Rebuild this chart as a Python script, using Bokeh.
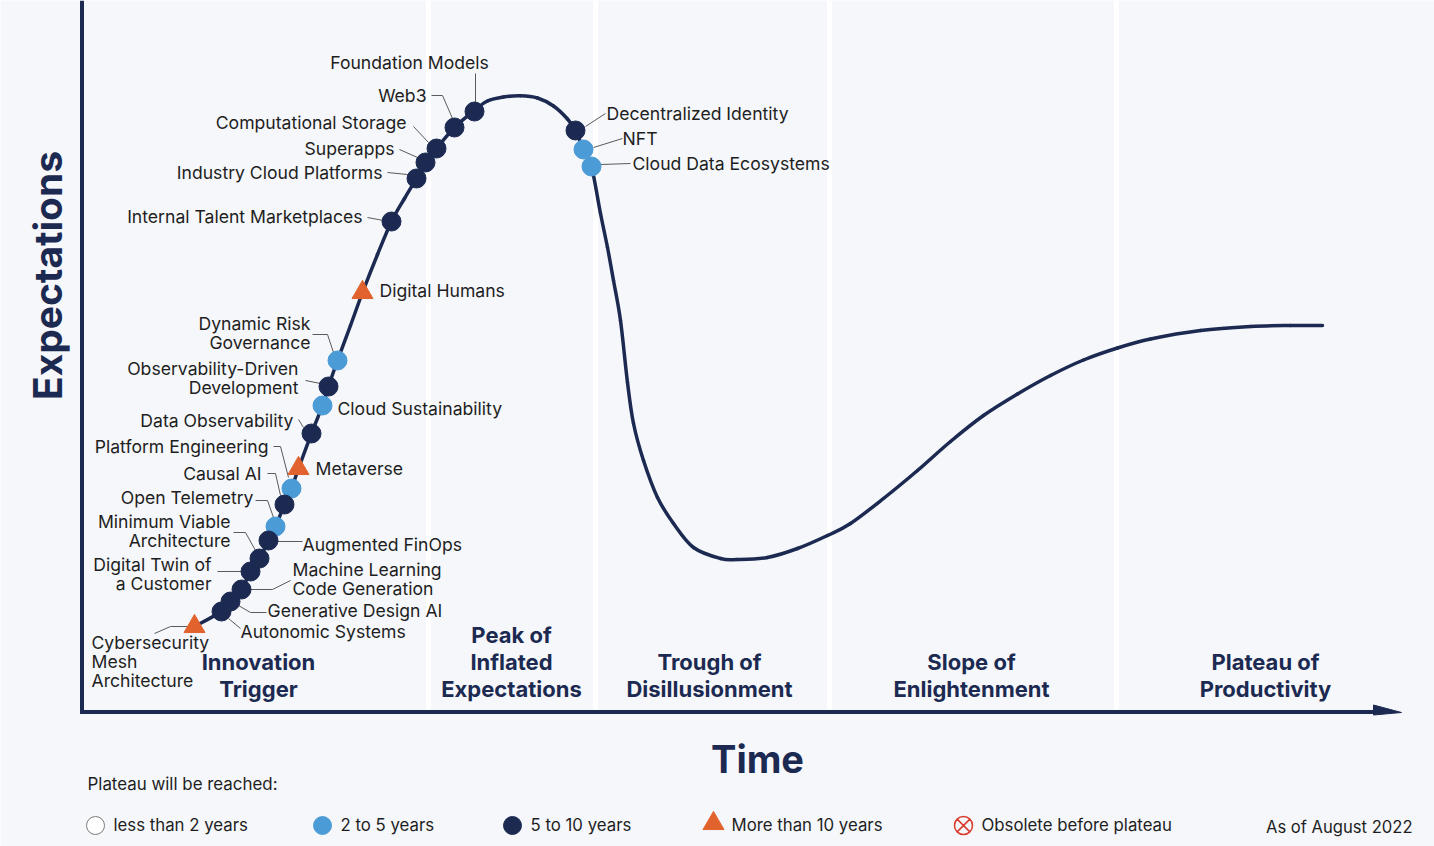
from bokeh.plotting import figure
from bokeh.models import Range1d
from bokeh.core.properties import value
from bokeh.embed import file_html
from bokeh.resources import INLINE
import math

# ---------------- data ----------------
# hype curve, time (x) vs. expectations (y, screen-like, larger = lower)
curve_time = [194, 221, 230, 241, 250, 259, 268, 275, 284, 291, 298, 311, 322, 328, 337,
              350, 362, 377, 391, 404, 416, 425, 436, 454, 474, 487, 503,
              520, 537, 553, 567, 575, 583, 591, 600, 607, 613, 620,
              627, 633, 643, 657, 673, 693, 720, 737, 767, 797, 827, 850, 883, 917, 950,
              983, 1017, 1050, 1083, 1117, 1150, 1200, 1250, 1290, 1322]
curve_expect = [626, 611, 601, 589, 571, 558, 540, 526, 504, 488, 468, 433, 405, 386, 360,
                325, 292, 254, 221, 198, 178, 162, 148, 127, 110, 100.5, 96.5,
                95.3, 97.5, 105.5, 118.5, 130, 149, 166, 213, 247, 280, 320,
                382, 423, 460, 497, 523, 547, 558, 559, 557, 548, 535, 523, 498, 470, 441,
                415, 393.5, 375, 359.5, 347.5, 338.5, 330, 326, 325, 325]

tech_names = ["Cybersecurity Mesh Architecture", "Autonomic Systems", "Generative Design AI",
              "Machine Learning Code Generation", "Digital Twin of a Customer",
              "Minimum Viable Architecture", "Augmented FinOps", "Open Telemetry", "Causal AI",
              "Platform Engineering", "Metaverse", "Data Observability", "Cloud Sustainability",
              "Observability-Driven Development", "Dynamic Risk Governance", "Digital Humans",
              "Internal Talent Marketplaces", "Industry Cloud Platforms", "Superapps",
              "Computational Storage", "Web3", "Foundation Models", "Decentralized Identity",
              "NFT", "Cloud Data Ecosystems"]
tech_time = [194, 221, 230, 241, 250, 259, 268, 275, 284, 291, 298, 311, 322, 328, 337,
             362, 391, 416, 425, 436, 454, 474, 575, 583, 591]
tech_expect = [626, 611, 601, 589, 571, 558, 540, 526, 504, 488, 468, 433, 405, 386, 360,
               292, 221, 178, 162, 148, 127, 111, 130, 149, 166]
tech_plateau = [">10", "5-10", "5-10", "5-10", "5-10", "5-10", "5-10", "2-5", "5-10", "2-5",
                ">10", "5-10", "2-5", "5-10", "2-5", ">10", "5-10", "5-10", "5-10", "5-10",
                "5-10", "5-10", "5-10", "2-5", "2-5"]

phase_names = ["Innovation\nTrigger", "Peak of\nInflated\nExpectations",
               "Trough of\nDisillusionment", "Slope of\nEnlightenment", "Plateau of\nProductivity"]
phase_bounds = [428, 595, 829, 1116]

legend_title = "Plateau will be reached:"
legend_labels = ["less than 2 years", "2 to 5 years", "5 to 10 years",
                 "More than 10 years", "Obsolete before plateau"]
legend_keys = ["<2", "2-5", "5-10", ">10", "obsolete"]
note_text = "As of August 2022"

# ---------------- layout / style ----------------
W, H = 1434, 846
BG = "#f5f7fa"
NAVY = "#1c2a52"
BLUE = "#4b9bd6"
ORANGE = "#e2622e"
RED = "#d93a2b"
TXT = "#1e1e1e"
LEAD = "#5a5a5a"
FONT = value("Inter")
LABEL_SIZE = "17.6px"

# label text (with line breaks), anchor x, first-line y, align, leader polyline
label_layout = {
    "Cybersecurity Mesh Architecture": ("Cybersecurity\nMesh\nArchitecture", 91, 642, "left",
                                        [(154, 633), (170, 626), (193, 626)]),
    "Autonomic Systems": ("Autonomic Systems", 240, 631, "left", [(228, 618), (240, 628)]),
    "Generative Design AI": ("Generative Design AI", 267, 610, "left",
                             [(238, 605), (250, 612), (266, 612)]),
    "Machine Learning Code Generation": ("Machine Learning\nCode Generation", 292, 569, "left",
                                         [(250, 589), (272, 589), (290, 580)]),
    "Digital Twin of a Customer": ("Digital Twin of\na Customer", 211, 564, "right",
                                   [(217, 571), (242, 571)]),
    "Minimum Viable Architecture": ("Minimum Viable\nArchitecture", 230, 521, "right",
                                    [(233, 532), (245, 532), (255, 550)]),
    "Augmented FinOps": ("Augmented FinOps", 302, 544, "left", [(277, 541), (302, 541)]),
    "Open Telemetry": ("Open Telemetry", 253, 497, "right", [(255, 500), (267, 500), (273, 517)]),
    "Causal AI": ("Causal AI", 261, 473, "right", [(267, 473), (275, 473), (280, 495)]),
    "Platform Engineering": ("Platform Engineering", 268, 446, "right",
                             [(273, 446), (280, 446), (288, 477)]),
    "Metaverse": ("Metaverse", 315, 468, "left", []),
    "Data Observability": ("Data Observability", 293, 420, "right", [(298, 419), (303, 427)]),
    "Cloud Sustainability": ("Cloud Sustainability", 337, 408, "left", []),
    "Observability-Driven Development": ("Observability-Driven\nDevelopment", 298, 368, "right",
                                         [(305, 380), (320, 383)]),
    "Dynamic Risk Governance": ("Dynamic Risk\nGovernance", 310, 323, "right",
                                [(312, 334), (327, 334), (333, 352)]),
    "Digital Humans": ("Digital Humans", 379, 290, "left", []),
    "Internal Talent Marketplaces": ("Internal Talent Marketplaces", 362, 216, "right",
                                     [(367, 217), (383, 220)]),
    "Industry Cloud Platforms": ("Industry Cloud Platforms", 382, 172, "right",
                                 [(387, 172), (407, 174)]),
    "Superapps": ("Superapps", 394, 148, "right", [(399, 149), (417, 157)]),
    "Computational Storage": ("Computational Storage", 406, 122, "right", [(413, 126), (428, 142)]),
    "Web3": ("Web3", 426, 95, "right", [(431, 95), (442, 95), (452, 118)]),
    "Foundation Models": ("Foundation Models", 409, 62, "center", [(475, 73), (475, 103)]),
    "Decentralized Identity": ("Decentralized Identity", 606, 113, "left", [(585, 126), (605, 113)]),
    "NFT": ("NFT", 622, 138, "left", [(593, 147), (622, 138)]),
    "Cloud Data Ecosystems": ("Cloud Data Ecosystems", 632, 163, "left", [(600, 164), (630, 163)]),
}
phase_layout = [(258, 661), (511, 634), (709, 661), (971, 661), (1265, 661)]
legend_x = [95, 322, 512, 713, 963]
legend_y = 825

style = {"<2": ("circle", "white", "#7a7a7a"), "2-5": ("circle", BLUE, BLUE),
         "5-10": ("circle", NAVY, NAVY), ">10": ("triangle", ORANGE, ORANGE),
         "obsolete": ("circle_x", None, RED)}

p = figure(width=W, height=H, x_range=Range1d(0, W), y_range=Range1d(H, 0),
           output_backend="svg", toolbar_location=None, min_border=0,
           background_fill_color=BG, border_fill_color=BG, outline_line_color=None,
           x_axis_type=None, y_axis_type=None)
p.grid.visible = False

# phase separators
p.segment(x0=phase_bounds, y0=[0] * 4, x1=phase_bounds, y1=[709] * 4,
          line_color="white", line_width=5)

# axes
p.segment(x0=[81.5], y0=[0], x1=[81.5], y1=[713.5], line_color=NAVY, line_width=4)
p.segment(x0=[80], y0=[711.5], x1=[1378], y1=[711.5], line_color=NAVY, line_width=4)
p.patch(x=[1373, 1401, 1373], y=[704.5, 712, 714.5], fill_color=NAVY, line_color=NAVY)

# curve: smooth Catmull-Rom path through the read points, drawn as bezier pieces
n = len(curve_time)
def pt(i):
    i = min(max(i, 0), n - 1)
    return curve_time[i], curve_expect[i]
bx0, by0, bx1, by1, cx0, cy0, cx1, cy1 = ([] for _ in range(8))
for i in range(n - 1):
    p0, p1, p2, p3 = pt(i - 1), pt(i), pt(i + 1), pt(i + 2)
    bx0.append(p1[0]); by0.append(p1[1]); bx1.append(p2[0]); by1.append(p2[1])
    cx0.append(p1[0] + (p2[0] - p0[0]) / 6); cy0.append(p1[1] + (p2[1] - p0[1]) / 6)
    cx1.append(p2[0] - (p3[0] - p1[0]) / 6); cy1.append(p2[1] - (p3[1] - p1[1]) / 6)
p.bezier(x0=bx0, y0=by0, x1=bx1, y1=by1, cx0=cx0, cy0=cy0, cx1=cx1, cy1=cy1,
         line_color=NAVY, line_width=3.5, line_cap="round")

# leaders
lx, ly = [], []
for nm in tech_names:
    pts = label_layout[nm][4]
    if pts:
        lx.append([q[0] for q in pts])
        ly.append([q[1] for q in pts])
p.multi_line(lx, ly, line_color=LEAD, line_width=1)

# markers
for key in ["2-5", "5-10", ">10"]:
    xs = [x for x, c in zip(tech_time, tech_plateau) if c == key]
    ys = [y for y, c in zip(tech_expect, tech_plateau) if c == key]
    mk, fc, lc = style[key]
    p.scatter(xs, ys, marker=mk, size=21 if mk == "triangle" else 19,
              fill_color=fc, line_color=lc, line_width=1)

# labels
for align in ["left", "right", "center"]:
    tx, ty, tt = [], [], []
    for nm in tech_names:
        text, x0, y0, a, _ = label_layout[nm]
        if a != align:
            continue
        for i, line in enumerate(text.split("\n")):
            tx.append(x0)
            ty.append(y0 + i * 19)
            tt.append(line)
    p.text(tx, ty, text=tt, text_align=align, text_baseline="middle",
           text_font=FONT, text_font_size=LABEL_SIZE, text_color=TXT)

# phase names
px, py, ptxt = [], [], []
for name, (x0, y0) in zip(phase_names, phase_layout):
    for i, line in enumerate(name.split("\n")):
        px.append(x0)
        py.append(y0 + i * 27)
        ptxt.append(line)
p.text(px, py, text=ptxt, text_align="center", text_baseline="middle", text_font=FONT,
       text_font_size="22px", text_font_style="bold", text_color=NAVY)

# axis titles
p.text([47], [275], text=["Expectations"], angle=math.pi / 2, text_align="center",
       text_baseline="middle", text_font=FONT, text_font_size="39px",
       text_font_style="bold", text_color=NAVY)
p.text([757], [758], text=["Time"], text_align="center", text_baseline="middle",
       text_font=FONT, text_font_size="38px", text_font_style="bold", text_color=NAVY)

# legend
p.text([87], [783], text=[legend_title], text_align="left", text_baseline="middle",
       text_font=FONT, text_font_size="16.9px", text_color=TXT)
for key, lab, x0 in zip(legend_keys, legend_labels, legend_x):
    mk, fc, lc = style[key]
    p.scatter([x0], [legend_y - (2 if mk == "triangle" else 0)], marker=mk,
              size=21 if mk == "triangle" else 18,
              fill_color=fc, fill_alpha=0 if fc is None else 1, line_color=lc,
              line_width=1.5 if key == "obsolete" else 1)
    p.text([x0 + 18], [legend_y - 1], text=[lab], text_align="left", text_baseline="middle",
           text_font=FONT, text_font_size="16.8px", text_color=TXT)
p.text([1412], [826], text=[note_text], text_align="right", text_baseline="middle",
       text_font=FONT, text_font_size="16.6px", text_color=TXT)

open("out.html", "w").write(file_html(p, INLINE))
